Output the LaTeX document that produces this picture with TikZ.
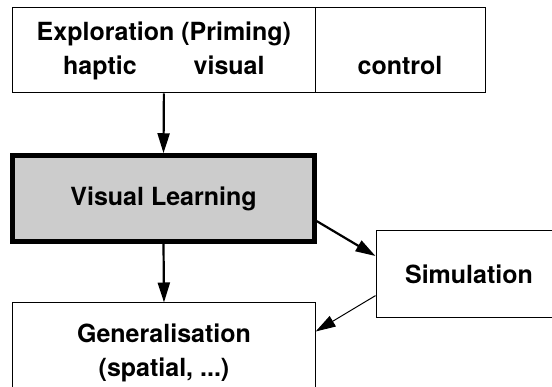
\documentclass[tikz,border=0pt]{standalone}
\usepackage{fontspec}
\setmainfont{TeX Gyre Heros}
\usetikzlibrary{arrows.meta,calc}

\begin{document}
\begin{tikzpicture}[x=1pt, y=-1pt, font=\fontsize{25}{34}\selectfont\bfseries,
box/.style={draw, rectangle, inner sep=0pt, line width=1pt, align=center},
flow/.style={-{Triangle[length=20pt,width=12pt]}, line width=2.2pt}]
\clip (0,0) rectangle (552,387);
\node[box, minimum width=302.3, minimum height=85] (explore) at (163.9,50.5) {Exploration (Priming)\\haptic\hspace{57pt}visual};
\node[box, minimum width=170, minimum height=85] (control) at (400,50.5) {\vphantom{(Priming)}\\control\vphantom{haptic}};
\node[box, line width=4.5pt, fill=gray!40, minimum width=302, minimum height=86] (vl) at (163.5,198.5) {Visual Learning};
\node[box, minimum width=186, minimum height=87] (sim) at (469,274.5) {Simulation};
\node[box, minimum width=302.3, minimum height=99] (gen) at (164,352.5) {Generalisation\\(spatial, ...)};

\draw[flow] (explore.south) -- (vl.north);
\draw[flow] (vl.south) -- (gen.north);
\draw[flow] ($(vl.north east)!0.75!(vl.south east)$) -- ($(sim.north west)!0.29!(sim.south west)$);
\draw[flow, line width=1pt] ($(sim.north west)!0.74!(sim.south west)$) -- ($(gen.north east)!0.29!(gen.south east)$);
\end{tikzpicture}
\end{document}
